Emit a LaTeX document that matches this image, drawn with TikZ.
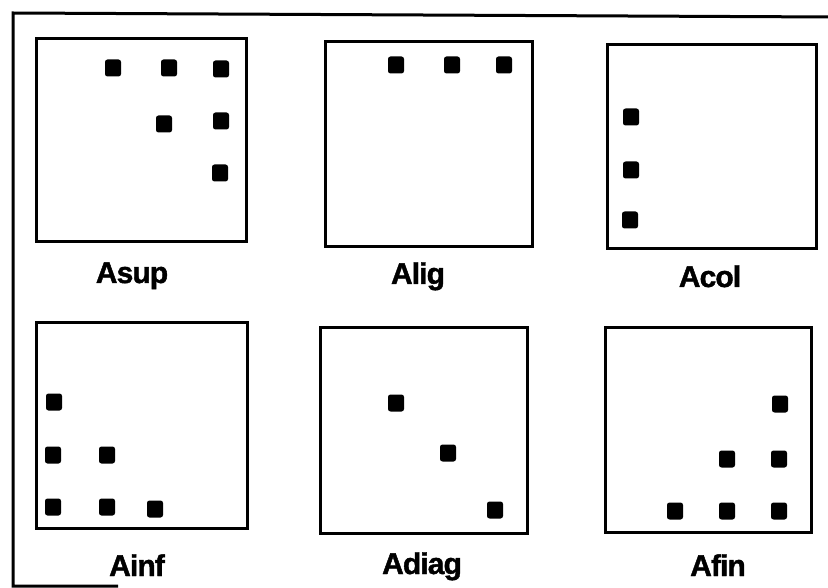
\documentclass[tikz,border=0pt]{standalone}
\usepackage{fontspec}
\setmainfont{Liberation Sans}[BoldFeatures={FakeBold=1.4,LetterSpace=-3}]
\begin{document}
\begin{tikzpicture}[x=1pt,y=-1pt,
  panel/.style={draw=black,line width=3pt,inner sep=0pt,outer sep=0pt},
  dot/.style={fill=black,rounded corners=2.5pt,minimum width=16pt,minimum height=17pt,inner sep=0pt},
  lab/.style={anchor=base,font=\bfseries\fontsize{30}{32}\selectfont,inner sep=0pt}]
\useasboundingbox[fill=white] (0,0) rectangle (828,588);
% outer frame
\coordinate (f1) at (832,17);
\coordinate (f2) at (13,13);
\coordinate (f3) at (13,586);
\coordinate (f4) at (118,586);
\draw[line width=3pt] (f1) -- (f2) -- (f3) -- (f4);
% panels
\node[panel,minimum width=210pt,minimum height=203pt] (p1) at (141,140.5) {};
\node[panel,minimum width=207pt,minimum height=205pt] (p2) at (428.5,144.5) {};
\node[panel,minimum width=209pt,minimum height=204pt] (p3) at (711.5,147) {};
\node[panel,minimum width=211pt,minimum height=205pt] (p4) at (141.5,425.5) {};
\node[panel,minimum width=207pt,minimum height=205pt] (p5) at (423.5,430.5) {};
\node[panel,minimum width=206pt,minimum height=204pt] (p6) at (708,430) {};
% Asup
\node[dot] (s11) at (113,68) {};
\node[dot] (s12) at (169,68) {};
\node[dot] (s13) at (221,69) {};
\node[dot] (s14) at (164,124) {};
\node[dot] (s15) at (221,121) {};
\node[dot] (s16) at (220,173) {};
% Alig
\node[dot] (s21) at (396,65) {};
\node[dot] (s22) at (452,65) {};
\node[dot] (s23) at (504,65) {};
% Acol
\node[dot] (s31) at (631,117) {};
\node[dot] (s32) at (631,170) {};
\node[dot] (s33) at (630,220) {};
% Ainf
\node[dot] (s41) at (54,402) {};
\node[dot] (s42) at (53,455) {};
\node[dot] (s43) at (107,455) {};
\node[dot] (s44) at (53,507) {};
\node[dot] (s45) at (107,507) {};
\node[dot] (s46) at (155,509) {};
% Adiag
\node[dot] (s51) at (396,403) {};
\node[dot] (s52) at (448,453) {};
\node[dot] (s53) at (495,510) {};
% Afin
\node[dot] (s61) at (780,404) {};
\node[dot] (s62) at (727,459) {};
\node[dot] (s63) at (779,459) {};
\node[dot] (s64) at (675,511) {};
\node[dot] (s65) at (727,511) {};
\node[dot] (s66) at (779,511) {};
% labels
\node[lab] (l1) at (132,283) {Asup};
\node[lab] (l2) at (418,284) {Alig};
\node[lab] (l3) at (710,287) {Acol};
\node[lab] (l4) at (137,576) {Ainf};
\node[lab] (l5) at (422,574) {Adiag};
\node[lab] (l6) at (718,576) {Afin};
\end{tikzpicture}
\end{document}
